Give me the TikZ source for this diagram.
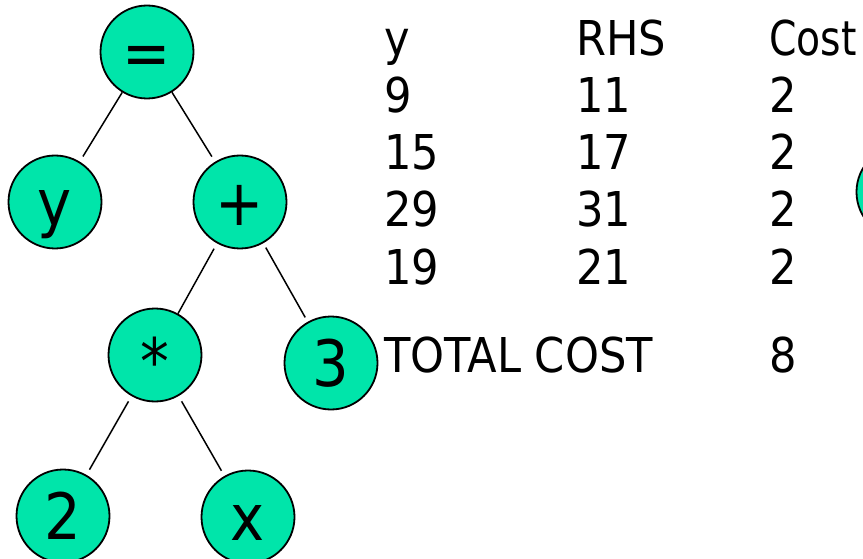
\documentclass[tikz,border=0pt]{standalone}
\usepackage{fontspec}
\usepackage{graphicx}
\setmainfont[FakeStretch=0.9]{DejaVu Sans}
\definecolor{nodegreen}{RGB}{0,229,170}
\begin{document}
\begin{tikzpicture}[x=1pt,y=-1pt,
  tnode/.style={circle,draw=black,line width=1.8pt,fill=nodegreen,
    minimum size=93pt,inner sep=0pt,font=\fontsize{64}{70}\selectfont,
    text height=47pt,text depth=0pt},
  link/.style={line width=1.5pt},
  cell/.style={anchor=base west,inner sep=0pt,font=\fontsize{48}{56}\selectfont}]
\useasboundingbox (0,0) rectangle (863,559);
\clip (0,0) rectangle (863,559);

% expression tree
\node[tnode] (eq)    at (147,52)  {=};
\node[tnode] (y)     at (55,202)  {y};
\node[tnode] (plus)  at (240,202) {+};
\node[tnode] (star)  at (155,355) {\raisebox{-6pt}{*}};
\node[tnode] (three) at (331,363) {3};
\node[tnode] (two)   at (63,516)  {2};
\node[tnode] (x)     at (248,517) {x};
\node[tnode] (extra) at (903,192) {};

\draw[link,shorten >=6pt] (eq) -- (y);
\draw[link,shorten >=6pt] (eq) -- (plus);
\draw[link,shorten <=6pt] (plus) -- (star);
\draw[link,shorten <=5pt,shorten >=5pt] (plus) -- (three);
\draw[link,shorten <=6pt,shorten >=6pt] (star) -- (two);
\draw[link,shorten <=6pt,shorten >=6pt] (star) -- (x);

% cost table
\node[cell] (h1) at (384,56)  {y};
\node[cell] (h2) at (576,56)  {RHS};
\node[cell] (h3) at (769,56)  {\scalebox{0.91}[1]{Cost}};
\node[cell] (a1) at (384,113) {9};
\node[cell] (a2) at (576,113) {11};
\node[cell] (a3) at (769,113) {2};
\node[cell] (b1) at (384,170) {15};
\node[cell] (b2) at (576,170) {17};
\node[cell] (b3) at (769,170) {2};
\node[cell] (c1) at (384,227) {29};
\node[cell] (c2) at (576,227) {31};
\node[cell] (c3) at (769,227) {2};
\node[cell] (d1) at (384,284) {19};
\node[cell] (d2) at (576,284) {21};
\node[cell] (d3) at (769,284) {2};
\node[cell] (t1) at (384,372) {TOTAL COST};
\node[cell] (t3) at (769,372) {8};
\end{tikzpicture}
\end{document}
